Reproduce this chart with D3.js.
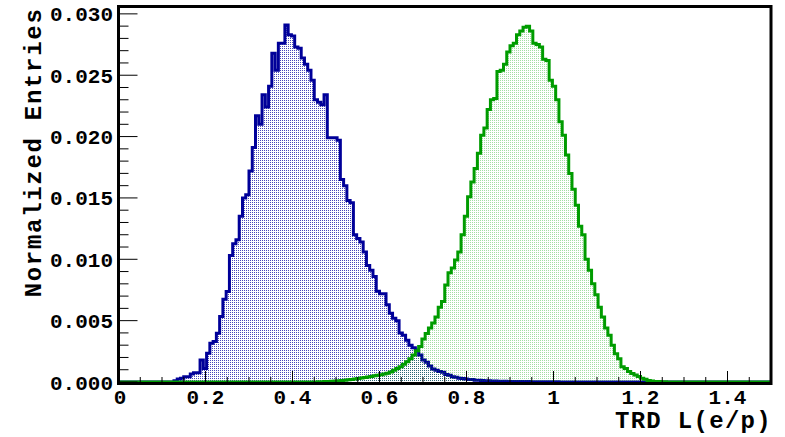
<!DOCTYPE html>
<html>
<head>
<meta charset="utf-8">
<script src="https://cdn.jsdelivr.net/npm/d3@7"></script>
<style>
  html, body { margin: 0; padding: 0; background: #fff; }
  svg { display: block; }
  text { font-family: "Liberation Mono", "DejaVu Sans Mono", monospace; font-weight: bold; fill: #000; }
</style>
</head>
<body>
<svg id="chart" width="785" height="437"></svg>
<script>
// Histogram binning: 200 bins spanning 0 .. 1.5
const xMin = 0, xMax = 1.5, nBins = 200;

// Pion-like sample, normalized entries per bin (units of 1e-3)
const pionEntries = [
  0,0,0,0,0,0,0,0,0,0, 0,0,0,0,0,0,0,0.1,0.25,0.3,
  0.43,0.43,0.65,0.76,0.76,1.8,1.1,2.34,3.15,3.3,
  3.97,5.33,6.74,7.37,10.3,11.26,11.6,13.5,15.0,15.25,
  17.2,19.1,21.7,21.0,23.4,22.4,24.1,26.8,25.4,27.6,
  27.6,29.1,28.3,28.2,27.3,27.2,26.4,25.9,25.4,24.6,
  23.0,22.8,22.6,23.4,19.9,19.9,19.9,19.7,16.5,16.0,
  14.8,14.6,12.0,11.7,11.4,10.6,9.5,9.1,8.6,7.4,
  7.2,7.2,6.3,5.6,5.2,5.0,4.0,3.8,3.4,3.0,
  2.8,2.6,2.2,1.8,1.6,1.3,1.05,0.95,0.85,0.8,
  0.62,0.55,0.42,0.38,0.3,0.28,0.25,0.2,0.2,0.15,
  0.15,0.12,0.1,0.1,0.08,0.08,0.06,0.05,0.06,0.05,
  0.04,0.05,0.04,0.04,0.03,0.04,0.03,0.03,0.02,0.03,
  0.02,0.02,0.02,0.01,0.02,0.01,0.01,0.01,0.01,0.01,
  0.01,0,0,0,0,0,0,0,0,0, 0,0,0,0,0,0,0,0,0,0,
  0,0,0,0,0,0,0,0,0,0, 0,0,0,0,0,0,0,0,0,0,
  0,0,0,0,0,0,0,0,0,0, 0,0,0,0,0,0,0,0,0,0
];

// Electron-like sample, normalized entries per bin (units of 1e-3)
const electronEntries = [
  0,0,0,0,0,0,0,0,0,0, 0,0,0,0,0,0,0,0,0,0,
  0,0,0,0,0,0,0,0,0,0, 0,0,0,0,0,0,0,0,0,0,
  0,0,0,0,0,0,0,0,0,0, 0,0,0,0,0,0,0,0,0,0,
  0,0.02,0.03,0.04,0.05,0.06,0.08,0.1,0.12,0.15,
  0.18,0.2,0.24,0.28,0.32,0.36,0.4,0.45,0.5,0.55,
  0.6,0.65,0.72,0.82,0.95,1.1,1.25,1.45,1.65,1.9,
  2.2,2.55,2.9,3.5,3.95,4.4,4.8,5.3,6.1,6.55,
  7.9,8.9,9.3,9.95,10.6,12.0,13.5,15.1,16.3,17.4,
  18.65,20.1,20.7,22.2,23.0,23.1,25.3,25.4,25.9,26.9,
  27.4,27.6,28.3,28.6,28.9,29.0,28.6,27.6,27.5,27.3,
  26.3,26.2,24.6,24.1,23.0,21.2,20.1,18.5,17.0,15.7,
  14.4,12.7,12.0,10.0,9.1,8.0,7.1,6.1,5.3,4.4,
  3.8,3.0,2.3,1.9,1.25,1.1,0.85,0.7,0.57,0.45,
  0.3,0.22,0.12,0.08,0.05,0.04,0.03,0.02,0.01,0,
  0,0,0,0,0,0,0,0,0,0, 0,0,0,0,0,0,0,0,0,0,
  0,0,0,0,0,0,0,0,0,0, 0,0,0,0,0,0,0,0,0,0
];

const xTickValues = [0, 0.2, 0.4, 0.6, 0.8, 1, 1.2, 1.4];
const yTickValues = [0, 0.005, 0.010, 0.015, 0.020, 0.025, 0.030];
const xTitle = "TRD L(e/p)";
const yTitle = "Normalized Entries";

const svg = d3.select("#chart");
const frame = { left: 118.5, right: 771, top: 6.5, bottom: 382 };

const x = d3.scaleLinear().domain([xMin, xMax]).range([frame.left, frame.right]);
const y = d3.scaleLinear().domain([0, 0.0306]).range([frame.bottom, frame.top]);
const binWidth = (xMax - xMin) / nBins;

// Dot fill patterns
const defs = svg.append("defs");
function dotPattern(id, color, opacity) {
  const p = defs.append("pattern").attr("id", id)
    .attr("patternUnits", "userSpaceOnUse").attr("width", 2).attr("height", 2);
  p.append("rect").attr("width", 1).attr("height", 1)
    .attr("fill", color).attr("fill-opacity", opacity);
}
dotPattern("dotsBlue", "#1a1aa8", 0.8);
dotPattern("dotsGreen", "#00a000", 0.36);

const clip = defs.append("clipPath").attr("id", "plotClip");
clip.append("rect").attr("x", frame.left).attr("y", frame.top)
  .attr("width", frame.right - frame.left).attr("height", frame.bottom - frame.top + 3);

// Step outline of a histogram, from the baseline at xMin to the baseline at xMax
function stepPoints(entries) {
  const pts = [[xMin, 0]];
  entries.forEach((v, i) => {
    const lo = xMin + i * binWidth, hi = lo + binWidth;
    pts.push([lo, v * 1e-3], [hi, v * 1e-3]);
  });
  pts.push([xMax, 0]);
  return pts;
}
const line = d3.line().x(d => x(d[0])).y(d => y(d[1]));
const area = d3.area().x(d => x(d[0])).y0(y(0)).y1(d => y(d[1]));

const plot = svg.append("g").attr("clip-path", "url(#plotClip)");
function drawHist(entries, pattern, color) {
  const pts = stepPoints(entries);
  plot.append("path").attr("d", area(pts)).attr("fill", `url(#${pattern})`);
  plot.append("path").attr("d", line(pts)).attr("fill", "none")
    .attr("stroke", color).attr("stroke-width", 3).attr("stroke-linejoin", "miter");
}
drawHist(pionEntries, "dotsBlue", "#000099");
drawHist(electronEntries, "dotsGreen", "#009c00");

// Axes: ticks pointing into the frame
const yg = svg.append("g");
yg.selectAll("line").data(d3.range(0, 31).map(k => k * 0.001))
  .join("line")
  .attr("x1", frame.left).attr("x2", d => frame.left + (Math.round(d * 1000) % 5 === 0 ? 19 : 10))
  .attr("y1", d => y(d)).attr("y2", d => y(d))
  .attr("stroke", "#000").attr("stroke-width", 1);
yg.selectAll("text").data(yTickValues).join("text")
  .attr("x", 113).attr("y", d => y(d)).attr("dy", "0.36em")
  .attr("text-anchor", "end").attr("font-size", 21)
  .text(d => d3.format(".3f")(d));

const xg = svg.append("g");
xg.selectAll("line").data(d3.range(0, 31).map(k => k * 0.05))
  .join("line")
  .attr("x1", d => x(d)).attr("x2", d => x(d))
  .attr("y1", frame.bottom)
  .attr("y2", d => frame.bottom - (Math.round(d * 20) % 4 === 0 ? 11 : 5))
  .attr("stroke", "#000").attr("stroke-width", 1);
xg.selectAll("text").data(xTickValues).join("text")
  .attr("x", d => x(d) + (d === 0 ? 1.5 : 0)).attr("y", 404)
  .attr("text-anchor", "middle").attr("font-size", 21)
  .text(d => d3.format("~g")(d));

// Frame
svg.append("rect")
  .attr("x", frame.left).attr("y", frame.top)
  .attr("width", frame.right - frame.left).attr("height", frame.bottom + 1.5 - frame.top)
  .attr("fill", "none").attr("stroke", "#000").attr("stroke-width", 3);

// Axis titles
svg.append("text").attr("x", frame.right + 1).attr("y", 428)
  .attr("text-anchor", "end").attr("font-size", 24).attr("letter-spacing", 1.3)
  .text(xTitle);
svg.append("text")
  .attr("transform", `translate(41, ${frame.top + 1}) rotate(-90)`)
  .attr("text-anchor", "end").attr("font-size", 24).attr("letter-spacing", 1.7)
  .text(yTitle);
</script>
</body>
</html>
